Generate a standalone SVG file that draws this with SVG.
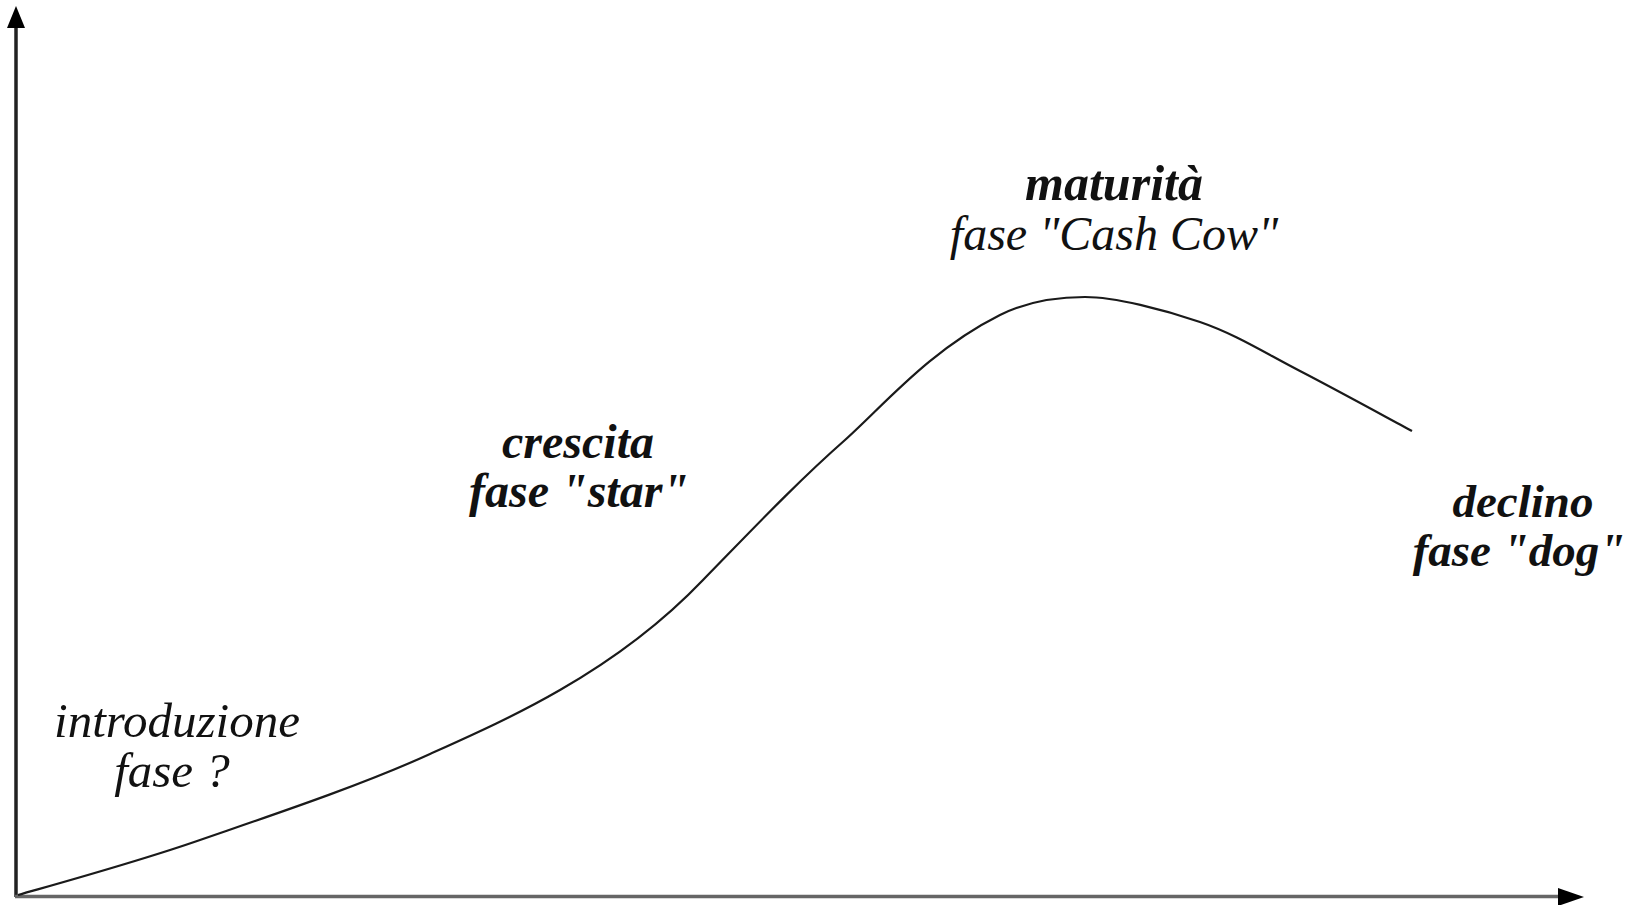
<svg xmlns="http://www.w3.org/2000/svg" width="1640" height="905" viewBox="0 0 1640 905">
<style>
.lbl{font-family:"Liberation Serif","Times New Roman",serif;font-style:italic;font-size:48px;fill:#111;text-anchor:middle}
.b{font-weight:bold}
.axis{stroke-width:3.5;fill:none}
.curve{stroke:#1a1a1a;stroke-width:2.2;fill:none}
</style>
<rect width="1640" height="905" fill="#fff"/>
<g id="axes">
<line class="axis" x1="16" y1="26" x2="16" y2="897" stroke="#222"/>
<polygon points="16,6 7,28 25,28" fill="#000"/>
<line class="axis" x1="15" y1="896.5" x2="1560" y2="896.5" stroke="#666"/>
<polygon points="1558,888 1584,897 1558,906" fill="#000"/>
</g>
<g id="connectors">
<path class="curve" d="M18,895 C60,883 140,861 200,840 C267,816.8 360,786 430,754 C470,736 515,716 560,690 C607,663 660,625 703,580 C750,532 795,484 845,440 C885,404 930,350 1000,315 C1028,301 1055,297 1085,297 C1115,297 1164.2,309.7 1200,322 C1235.8,334.3 1264.7,352.8 1300,371 C1335.3,389.2 1393.3,421 1412,431"/>
</g>
<g id="introduzione">
<text class="lbl" x="177" y="737" style="font-size:49px">introduzione</text>
<text class="lbl" x="172" y="787" style="font-size:49px">fase ?</text>
</g>
<g id="crescita">
<text class="lbl b" x="578" y="458">crescita</text>
<text class="lbl b" x="579" y="507">fase "star"</text>
</g>
<g id="maturita">
<text class="lbl b" x="1114" y="200" style="font-size:50px">maturità</text>
<text class="lbl" x="1114" y="250">fase "Cash Cow"</text>
</g>
<g id="declino">
<text class="lbl b" x="1523" y="517" style="font-size:47px">declino</text>
<text class="lbl b" x="1519" y="566" style="font-size:47px">fase "dog"</text>
</g>
</svg>
